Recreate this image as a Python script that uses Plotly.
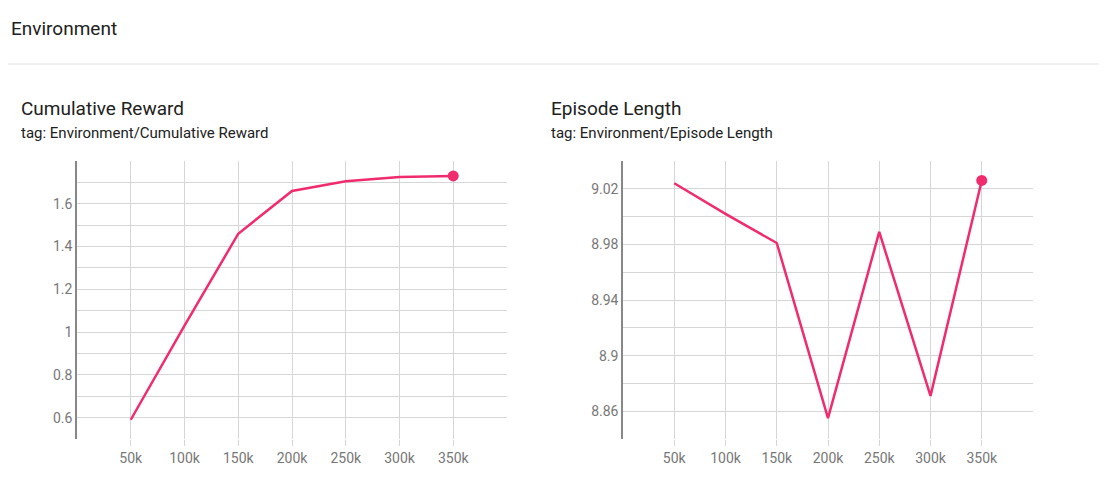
import plotly.graph_objects as go

steps = [50000, 100000, 150000, 200000, 250000, 300000, 350000]
reward = [0.59, 1.03, 1.46, 1.66, 1.705, 1.725, 1.73]
ep_len = [9.024, 9.002, 8.981, 8.855, 8.989, 8.871, 9.026]
x_ticks = [50000, 100000, 150000, 200000, 250000, 300000, 350000]
x_labels = ["50k", "100k", "150k", "200k", "250k", "300k", "350k"]
reward_ticks = [0.6, 0.8, 1.0, 1.2, 1.4, 1.6]
reward_labels = ["0.6", "0.8", "1", "1.2", "1.4", "1.6"]
len_ticks = [8.86, 8.9, 8.94, 8.98, 9.02]
len_labels = ["8.86", "8.9", "8.94", "8.98", "9.02"]

pink = "#f02c6e"
W, H = 1091, 481
DX, DY = 8, 10  # page offset seen in the render


def px_x(v):
    return (v - DX) / W


def px_y(v):
    return 1 - (v - DY) / H


fig = go.Figure()
fig.add_trace(go.Scatter(x=steps, y=reward, mode="lines", line=dict(color=pink, width=2.5),
                         xaxis="x", yaxis="y", hoverinfo="skip"))
fig.add_trace(go.Scatter(x=[steps[-1]], y=[reward[-1]], mode="markers",
                         marker=dict(color=pink, size=11), xaxis="x", yaxis="y"))
fig.add_trace(go.Scatter(x=steps, y=ep_len, mode="lines", line=dict(color=pink, width=2.5),
                         xaxis="x2", yaxis="y2", hoverinfo="skip"))
fig.add_trace(go.Scatter(x=[steps[-1]], y=[ep_len[-1]], mode="markers",
                         marker=dict(color=pink, size=11), xaxis="x2", yaxis="y2"))

grid = "#d6d6d6"
font = dict(family="Roboto", size=14, color="#777")

xcommon = dict(range=[0, 400000], tickvals=x_ticks, ticktext=x_labels, showgrid=True,
               gridcolor=grid, gridwidth=1, zeroline=False, tickfont=font,
               ticks="outside", ticklen=6, tickcolor=grid, showline=False)
ycommon = dict(showgrid=True, gridcolor=grid, zeroline=False, tickfont=font,
               showline=True, linecolor="#888", linewidth=1.5, ticks="")
fig.update_layout(
    width=W, height=H, margin=dict(l=0, r=0, t=0, b=0),
    paper_bgcolor="white", plot_bgcolor="white", showlegend=False,
    xaxis=dict(domain=[px_x(77), px_x(507)], anchor="y", **xcommon),
    xaxis2=dict(domain=[px_x(623), px_x(1033)], anchor="y2", **xcommon),
    yaxis=dict(domain=[px_y(441), px_y(163)], range=[0.5, 1.8], anchor="x",
               tickvals=reward_ticks, ticktext=reward_labels,
               minor=dict(dtick=0.1, tick0=0.5, showgrid=True, gridcolor=grid), **ycommon),
    yaxis2=dict(domain=[px_y(441), px_y(163)], range=[8.84, 9.04], anchor="x2",
                tickvals=len_ticks, ticktext=len_labels,
                minor=dict(dtick=0.02, tick0=8.84, showgrid=True, gridcolor=grid), **ycommon),
)

fig.add_shape(type="line", xref="paper", yref="paper", x0=0, x1=1,
              y0=px_y(66), y1=px_y(66), line=dict(color="#e0e0e0", width=1))


def note(text, x, y, size, color):
    fig.add_annotation(text=text, xref="paper", yref="paper", x=px_x(x), y=px_y(y),
                       xanchor="left", yanchor="middle", showarrow=False,
                       font=dict(family="Roboto", size=size, color=color))


note("Environment", 9, 30, 19, "#212121")
note("Cumulative Reward", 19, 111, 19, "#212121")
note("tag: Environment/Cumulative Reward", 19, 135, 15, "#212121")
note("Episode Length", 549, 111, 19, "#212121")
note("tag: Environment/Episode Length", 549, 135, 15, "#212121")

fig.write_html("out.html")
